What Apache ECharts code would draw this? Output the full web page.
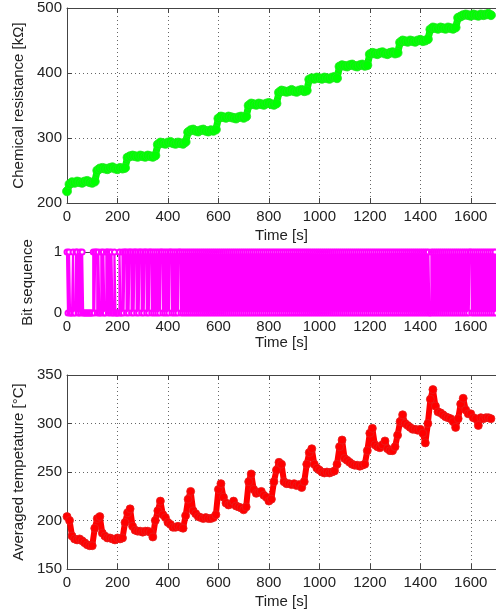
<!DOCTYPE html>
<html>
<head>
<meta charset="utf-8">
<style>
  html, body { margin: 0; padding: 0; background: #fff; }
  #main { width: 496px; height: 614px; }
</style>
<script src="https://cdn.jsdelivr.net/npm/echarts@6/dist/echarts.min.js"></script>
</head>
<body>
<div id="main"></div>
<script>
// chemical resistance [kOhm], one sample every 10 s from t = 0
var resStep = 10;
var resistance = [
  218, 229, 232, 231, 233, 232, 231, 233, 234, 232, 231, 233,
  250, 253, 254, 253, 252, 254, 255, 253, 252, 254, 253, 254,
  270, 272, 273, 272, 271, 273, 272, 271, 273, 272, 271, 273,
  290, 293, 292, 291, 293, 294, 292, 291, 293, 292, 291, 294,
  309, 312, 313, 311, 310, 312, 313, 311, 310, 312, 311, 313,
  330, 333, 332, 331, 333, 332, 331, 330, 332, 333, 331, 333,
  350, 353, 352, 351, 353, 352, 351, 353, 354, 352, 351, 353,
  370, 373, 372, 371, 372, 374, 372, 371, 373, 374, 372, 373,
  390, 392, 391, 393, 392, 391, 393, 392, 391, 393, 394, 392,
  410, 412, 411, 410, 412, 413, 411, 410, 412, 413, 411, 412,
  429, 431, 430, 429, 431, 432, 430, 429, 431, 432, 430, 431,
  447, 450, 449, 448, 450, 449, 448, 450, 451, 449, 450, 452,
  467, 470, 469, 468, 470, 469, 468, 470, 469, 468, 470, 485,
  487, 489, 490, 489, 488, 490, 489, 488, 490, 489, 490, 491, 489
];

// bit sequence, one sample every 4 s from t = 0
var bitStep = 4;
var bitRows = [
  '1010001001100101' + '0000000000' + '101101001010011010100100',
  '00100' + '101101011010110101101011010110101' + '010101101010',
  '1011010101011010' + '1010101010101010101010101010101010',
  '10101010101010101010101010101010101010101010101010',
  '10101010101010101010101010101010101010101010101010',
  '10101010101010101010101010101010101010101010101010',
  '10101010101010101010101010101010101010101010101010',
  '10101010100101010101010101010101010101010101010101',
  '101010101010101010101010101010'
];

// averaged temperature [degC], one sample every 10 s from t = 0
var tempStep = 10;
var temperature = [
  204, 200, 184, 181, 180, 181, 179, 177, 175, 174, 174,
  192, 202, 204, 187, 184, 182, 182, 181, 180, 182, 181, 182,
  198, 208, 212, 194, 190, 189, 189, 188, 189, 189, 188, 183,
  200, 210, 220, 206, 203, 198, 196, 193, 193, 194, 193, 192,
  205, 222, 230, 210, 207, 204, 203, 202, 203, 202, 202, 203, 206,
  232, 238, 224, 218, 216, 217, 220, 215, 214, 213, 211, 214,
  240, 248, 232, 228, 229, 230, 226, 224, 220, 222,
  240, 252, 260, 258, 240, 238, 238, 237, 238, 236, 237, 234,
  240, 258, 270, 274, 258, 254, 252, 250, 249, 250, 249, 250, 251,
  258, 276, 283, 264, 262, 260, 258, 257, 257, 256, 257, 258,
  272, 290, 295, 278, 276, 275, 278, 282, 274, 272, 272, 276,
  288, 302, 309, 300, 298, 296, 294, 294, 293, 294, 290, 280,
  300, 325, 335, 318, 312, 311, 309, 307, 306, 305, 302, 296,
  305, 320, 326, 314, 310, 310, 306, 305, 298, 306, 305, 306, 306, 305
];

var xTicks = { min: 0, max: 1700, interval: 200 };
var resTicks = { min: 200, max: 500, interval: 100 };
var bitTicks = { min: 0, max: 1, interval: 1 };
var tempTicks = { min: 150, max: 350, interval: 50 };

var font = 'Liberation Sans, Arial, Helvetica, sans-serif';
var axisColor = '#444';
var textColor = '#222';

function toPairs(arr, step) {
  return arr.map(function (v, i) { return [i * step, v]; });
}

var bits = bitRows.join('').split('').map(Number);

var grids = [
  { left: 67, right: -7, top: 8, height: 195 },
  { left: 67, right: -7, top: 252, height: 61 },
  { left: 67, right: -7, top: 375, height: 194 }
];

function plain(v) { return String(v); }

function splitStyle() {
  return { show: true, lineStyle: { color: '#666', width: 1, type: [1, 3] } };
}

function bottomX(idx, gap) {
  return {
    type: 'value', gridIndex: idx, position: 'bottom',
    min: xTicks.min, max: xTicks.max, interval: xTicks.interval,
    name: 'Time [s]', nameLocation: 'middle', nameGap: gap,
    nameTextStyle: { fontFamily: font, fontSize: 15, color: textColor },
    axisLine: { show: true, lineStyle: { color: axisColor } },
    axisTick: { show: true, inside: true, length: 5, lineStyle: { color: axisColor } },
    axisLabel: { show: true, margin: 6, showMaxLabel: false, formatter: plain, fontFamily: font, fontSize: 15, color: textColor },
    splitLine: splitStyle()
  };
}

function topX(idx) {
  return {
    type: 'value', gridIndex: idx, position: 'top',
    min: xTicks.min, max: xTicks.max, interval: xTicks.interval,
    axisLine: { show: true, lineStyle: { color: axisColor } },
    axisTick: { show: true, inside: true, length: 5, lineStyle: { color: axisColor } },
    axisLabel: { show: false },
    splitLine: { show: false }
  };
}

function leftY(idx, ticks, name, gap) {
  return {
    type: 'value', gridIndex: idx,
    min: ticks.min, max: ticks.max, interval: ticks.interval,
    name: name, nameLocation: 'middle', nameGap: gap, nameRotate: 90,
    nameTextStyle: { fontFamily: font, fontSize: 15, color: textColor },
    axisLine: { show: true, lineStyle: { color: axisColor } },
    axisTick: { show: true, inside: true, length: 5, lineStyle: { color: axisColor } },
    axisLabel: { show: true, margin: 5, formatter: plain, fontFamily: font, fontSize: 15, color: textColor },
    splitLine: splitStyle()
  };
}

var chart = echarts.init(document.getElementById('main'), null, { renderer: 'canvas' });
chart.setOption({
  animation: false,
  backgroundColor: '#fff',
  grid: grids,
  xAxis: [bottomX(0, 25), topX(0), bottomX(1, 20), topX(1), bottomX(2, 25), topX(2)],
  yAxis: [
    leftY(0, resTicks, 'Chemical resistance [kΩ]', 40),
    leftY(1, bitTicks, 'Bit sequence', 32),
    leftY(2, tempTicks, 'Averaged tempetature [°C]', 40)
  ],
  series: [{
    name: 'resistance',
    type: 'line',
    xAxisIndex: 0, yAxisIndex: 0,
    data: toPairs(resistance, resStep),
    symbol: 'circle', symbolSize: 9,
    itemStyle: { color: '#00ff00', borderColor: '#22e622', borderWidth: 0.8 },
    lineStyle: { color: '#00ff00', width: 7 }
  }, {
    name: 'bits',
    type: 'line',
    step: 'end',
    xAxisIndex: 2, yAxisIndex: 1,
    data: toPairs(bits, bitStep),
    symbol: 'emptyCircle', symbolSize: 5,
    itemStyle: { color: '#ff00ff', borderWidth: 1 },
    lineStyle: { color: '#ff00ff', width: 2.2 }
  }, {
    name: 'temperature',
    type: 'line',
    xAxisIndex: 4, yAxisIndex: 2,
    data: toPairs(temperature, tempStep),
    symbol: 'circle', symbolSize: 8,
    itemStyle: { color: '#ff0000', borderColor: '#e61e1e', borderWidth: 0.8 },
    lineStyle: { color: '#ff0000', width: 6 }
  }]
});
</script>
</body>
</html>
